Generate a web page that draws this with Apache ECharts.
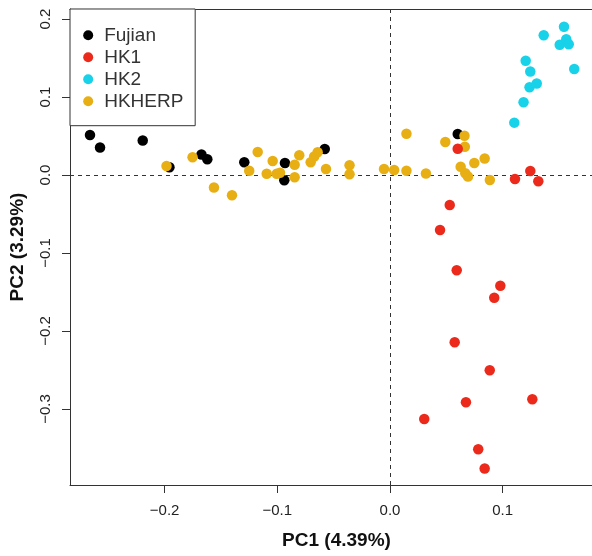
<!DOCTYPE html>
<html>
<head>
<meta charset="utf-8">
<script src="https://cdn.jsdelivr.net/npm/echarts@6/dist/echarts.min.js"></script>
<style>
  html, body { margin: 0; padding: 0; background: #fff; }
  #chart { width: 592px; height: 556px; }
</style>
</head>
<body>
<div id="chart"></div>
<script>
// Population groups (legend order)
const groups = ['Fujian', 'HK1', 'HK2', 'HKHERP'];

// PCA scores: [PC1, PC2]
const fujian = [
  [-0.2662, 0.0513], [-0.2573, 0.0353], [-0.2194, 0.0442], [-0.1957, 0.0099],
  [-0.1673, 0.0263], [-0.1621, 0.0203], [-0.1293, 0.0164], [-0.0932, 0.0154],
  [-0.0938, -0.0067], [-0.0579, 0.0333], [0.0601, 0.0526]
];
const hk1 = [
  [0.0601, 0.0337], [0.1109, -0.0051], [0.1245, 0.0051], [0.1316, -0.0081],
  [0.0530, -0.0385], [0.0444, -0.0705], [0.0592, -0.1222], [0.0979, -0.1419],
  [0.0925, -0.1573], [0.0574, -0.2145], [0.0885, -0.2504], [0.0674, -0.2914],
  [0.1263, -0.2876], [0.0304, -0.3128], [0.0783, -0.3517], [0.0840, -0.3763]
];
const hk2 = [
  [0.1103, 0.0671], [0.1185, 0.0932], [0.1238, 0.1124], [0.1302, 0.1173],
  [0.1245, 0.1327], [0.1204, 0.1464], [0.1364, 0.1792], [0.1544, 0.1901],
  [0.1506, 0.1669], [0.1564, 0.1740], [0.1586, 0.1676], [0.1635, 0.1359]
];
const hkherp = [
  [-0.1983, 0.0115], [-0.1752, 0.0227], [-0.1562, -0.0160], [-0.1402, -0.0260],
  [-0.1249, 0.0055], [-0.1174, 0.0295], [-0.1094, 0.0017], [-0.1041, 0.0179],
  [-0.1005, 0.0017], [-0.0976, 0.0029], [-0.0846, 0.0132], [-0.0846, -0.0029],
  [-0.0805, 0.0253], [-0.0704, 0.0163], [-0.0673, 0.0237], [-0.0642, 0.0291],
  [-0.0568, 0.0077], [-0.0359, 0.0124], [-0.0359, 0.0009], [-0.0053, 0.0077],
  [0.0037, 0.0064], [0.0146, 0.0529], [0.0146, 0.0055], [0.0319, 0.0019],
  [0.0491, 0.0423], [0.0661, 0.0504], [0.0664, 0.0363], [0.0627, 0.0106],
  [0.0668, 0.0022], [0.0692, -0.0019], [0.0748, 0.0154], [0.0840, 0.0212],
  [0.0886, -0.0064]
];

// Axis ticks
const xTicks = [-0.2, -0.1, 0.0, 0.1];
const yTicks = [-0.3, -0.2, -0.1, 0.0, 0.1, 0.2];

const colors = { Fujian: '#000000', HK1: '#EB2A1B', HK2: '#17D2E8', HKHERP: '#E8AF14' };
const FONT = '"Liberation Sans", Arial, Helvetica, sans-serif';
const LINE = '#333';

// Plot window; the frame continues past the right edge of the canvas
const X_MIN = -0.28394, X_MAX = 0.17924;
const Y_MIN = -0.39744, Y_MAX = 0.21282;

const fmt = v => v.toFixed(1).replace('-', '\u2212');

function pointSeries(name, data) {
  return {
    name: name,
    type: 'scatter',
    data: data,
    symbol: 'circle',
    symbolSize: 10.5,
    itemStyle: { color: colors[name], opacity: 1 },
    z: 2,
    silent: true
  };
}

const chart = echarts.init(document.getElementById('chart'), null, { renderer: 'canvas' });

chart.setOption({
  animation: false,
  backgroundColor: '#fff',
  textStyle: { fontFamily: FONT },
  grid: { left: 70, top: 9, right: 0, height: 476, show: false },
  xAxis: [
    {
      type: 'value',
      position: 'bottom',
      min: X_MIN, max: X_MAX,
      splitLine: { show: false },
      axisLine: { show: true, onZero: false, lineStyle: { color: LINE, width: 1 } },
      axisTick: { show: true, length: 8, lineStyle: { color: LINE }, customValues: xTicks },
      axisLabel: { customValues: xTicks, formatter: fmt, fontSize: 15, color: '#222', margin: 18, fontFamily: FONT },
      name: 'PC1 (4.39%)',
      nameLocation: 'middle',
      nameGap: 46,
      nameTextStyle: { fontSize: 19, fontWeight: 'bold', color: '#111', fontFamily: FONT, padding: [0, 0, 0, 11] }
    },
    {
      // top edge of the frame
      type: 'value',
      position: 'top',
      min: X_MIN, max: X_MAX,
      splitLine: { show: false },
      axisLine: { show: true, onZero: false, lineStyle: { color: LINE, width: 1 } },
      axisTick: { show: false },
      axisLabel: { show: false }
    }
  ],
  yAxis: {
    type: 'value',
    min: Y_MIN, max: Y_MAX,
    splitLine: { show: false },
    axisLine: { show: true, onZero: false, lineStyle: { color: LINE, width: 1 } },
    axisTick: { show: true, length: 8, lineStyle: { color: LINE }, customValues: yTicks },
    axisLabel: { customValues: yTicks, formatter: fmt, fontSize: 15, color: '#222', margin: 17, rotate: 90, fontFamily: FONT },
    name: 'PC2 (3.29%)',
    nameLocation: 'middle',
    nameGap: 43,
    nameRotate: 90,
    nameTextStyle: { fontSize: 19, fontWeight: 'bold', color: '#111', fontFamily: FONT }
  },
  legend: {
    data: groups,
    orient: 'vertical',
    left: 70, top: 9,
    padding: [15.3, 11.8, 13.4, 13.2],
    itemWidth: 22, itemHeight: 10, itemGap: 0,
    icon: 'circle',
    backgroundColor: '#fff',
    borderColor: LINE, borderWidth: 1, borderRadius: 0,
    selectedMode: false,
    textStyle: { fontSize: 19, lineHeight: 22, color: '#333', fontFamily: FONT },
    z: 10
  },
  series: [
    {
      name: 'reference',
      type: 'scatter',
      data: [],
      silent: true,
      z: 1,
      markLine: {
        silent: true,
        symbol: 'none',
        z: 1,
        animation: false,
        label: { show: false },
        lineStyle: { color: LINE, type: [4, 4], width: 1 },
        data: [{ xAxis: 0 }, { yAxis: 0 }]
      }
    },
    pointSeries('Fujian', fujian),
    pointSeries('HKHERP', hkherp),
    pointSeries('HK1', hk1),
    pointSeries('HK2', hk2)
  ]
});
</script>
</body>
</html>
